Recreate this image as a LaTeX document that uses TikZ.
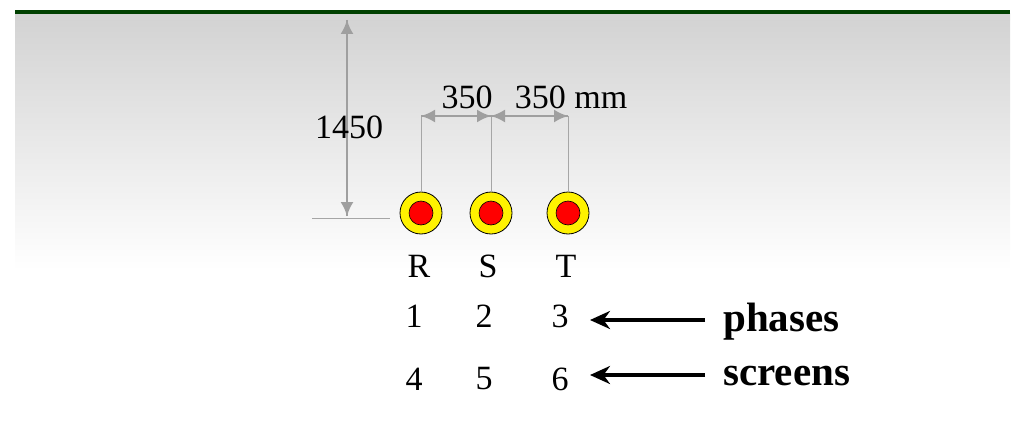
\documentclass[tikz,border=0pt]{standalone}
\usepackage{fontspec}
\setmainfont{Liberation Serif}
\usetikzlibrary{arrows.meta}
\begin{document}
\begin{tikzpicture}[x=1pt,y=-1pt,
  txt/.style={font=\fontsize{34}{36}\selectfont,inner sep=0pt},
  btxt/.style={font=\fontsize{41}{44}\selectfont\bfseries,inner sep=0pt,anchor=west},
  dim/.style={draw=gray!70,line width=0.8pt},
  dimarrow/.style={gray!75,line width=2pt,-{Latex[length=14pt,width=13pt]}},
  cond/.style={circle,draw=black,fill=yellow,minimum size=42pt,inner sep=0pt,line width=0.8pt},
  core/.style={circle,draw=black,fill=red,minimum size=24pt,inner sep=0pt,line width=0.6pt},
  bigarrow/.style={line width=4pt,-{Stealth[length=20pt,width=18pt]}}]
\useasboundingbox (0,0) rectangle (1024,433);
\shade[top color=gray!35,bottom color=white] (15,14) rectangle (1010,270);
\draw[line width=4pt,color={rgb,255:red,0;green,64;blue,0}] (15,12) -- (1010,12);
\foreach \n/\x in {r/421,s/491,t/568}{
  \node[cond] (\n) at (\x,213) {};
  \node[core] (\n c) at (\x,213) {};
  \coordinate (\n top) at (\x,116);
  \draw[dim] (\n.north) -- (\n top);
}
\draw[dimarrow] (rtop) -- (stop);
\draw[dimarrow] (stop) -- (rtop);
\draw[dimarrow] (stop) -- (ttop);
\draw[dimarrow] (ttop) -- (stop);
\coordinate (ha) at (312,218);
\coordinate (hb) at (390,218);
\draw[dim] (ha) -- (hb);
\coordinate (va) at (347,20);
\coordinate (vb) at (347,216);
\draw[dimarrow] (va) -- (vb);
\draw[dimarrow] (vb) -- (va);
\node[txt] (h) at (349,127) {1450};
\node[txt] (d1) at (467,97) {350};
\node[txt] (d2) at (571,97) {350 mm};
\foreach \l/\x in {R/419,S/488,T/566}{\node[txt] (L\l) at (\x,266) {\l};}
\foreach \l/\x in {1/414,2/484,3/560}{\node[txt] (n\l) at (\x,316) {\l};}
\foreach \l/\x in {4/414,5/484,6/560}{\node[txt] (n\l) at (\x,379) {\l};}
\node[btxt] (ph) at (723,322) {phases};
\node[btxt] (sc) at (723,376) {screens};
\coordinate (pa) at (705,320); \coordinate (pb) at (590,320);
\coordinate (sa) at (705,375); \coordinate (sb) at (590,375);
\draw[bigarrow] (pa) -- (pb);
\draw[bigarrow] (sa) -- (sb);
\end{tikzpicture}
\end{document}
